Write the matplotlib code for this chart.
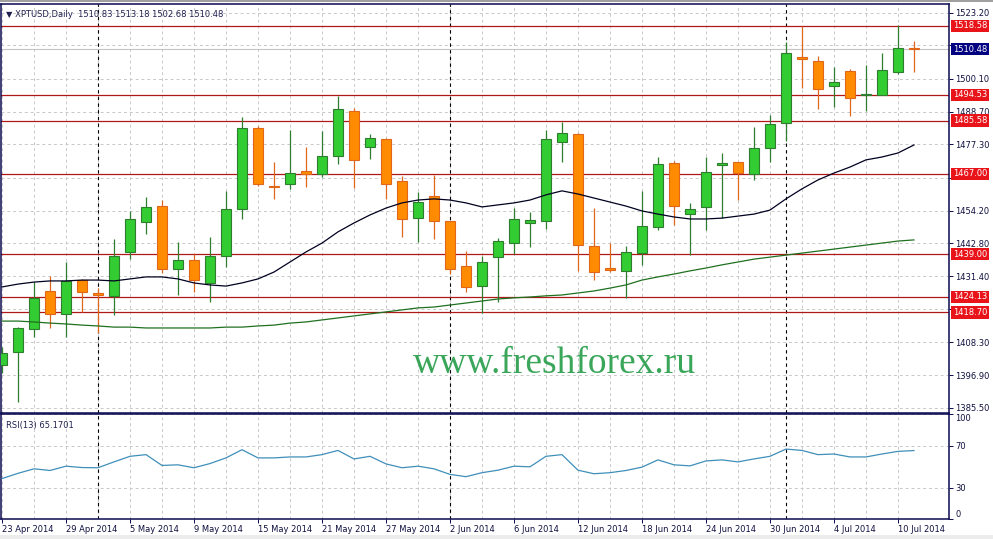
import numpy as np
import pandas as pd
import matplotlib
matplotlib.use('Agg')
import matplotlib.pyplot as plt
from matplotlib.patches import Rectangle

# XPTUSD daily bars, 23 Apr 2014 - 11 Jul 2014
dates = pd.bdate_range('2014-04-23', '2014-07-11')

opens = [1400.4, 1404.9, 1412.9, 1426.2, 1418.2, 1430.0, 1425.5, 1424.5, 1439.8, 1450.2,
         1455.8, 1433.9, 1437.0, 1429.0, 1438.4, 1454.8, 1483.0, 1462.8, 1463.5, 1468.0,
         1467.0, 1473.3, 1488.9, 1476.4, 1479.2, 1464.5, 1451.6, 1459.3, 1450.6, 1434.9,
         1427.9, 1438.0, 1442.9, 1449.9, 1450.6, 1478.1, 1480.9, 1441.9, 1434.2, 1433.2,
         1439.4, 1448.5, 1470.8, 1453.0, 1455.5, 1470.1, 1471.2, 1467.0, 1476.0, 1484.8,
         1507.8, 1506.4, 1497.7, 1502.9, 1494.5, 1494.5, 1502.5, 1510.83]
highs = [1406.7, 1413.6, 1429.3, 1431.4, 1436.3, 1430.4, 1427.2, 1444.3, 1454.1, 1459.0,
         1457.9, 1443.3, 1439.1, 1445.0, 1461.1, 1486.8, 1483.7, 1471.2, 1482.3, 1476.4,
         1482.0, 1494.2, 1490.0, 1480.9, 1479.5, 1466.3, 1460.7, 1466.6, 1450.6, 1440.1,
         1438.4, 1444.7, 1455.1, 1453.7, 1482.3, 1485.1, 1481.3, 1455.1, 1442.9, 1441.9,
         1461.1, 1472.9, 1471.5, 1456.9, 1472.9, 1474.3, 1471.2, 1483.4, 1487.5, 1513.0,
         1518.6, 1508.1, 1504.3, 1503.6, 1505.0, 1509.2, 1518.9, 1513.18]
lows = [1397.6, 1387.5, 1410.2, 1413.3, 1410.2, 1418.9, 1411.6, 1417.8, 1437.3, 1446.1,
        1432.5, 1424.8, 1425.8, 1422.4, 1434.6, 1451.3, 1462.8, 1458.3, 1461.8, 1462.4,
        1465.9, 1470.5, 1462.1, 1472.2, 1458.3, 1445.0, 1443.3, 1444.3, 1432.1, 1425.8,
        1418.5, 1422.4, 1439.1, 1441.5, 1447.8, 1471.2, 1433.2, 1430.0, 1432.8, 1423.8,
        1435.3, 1447.5, 1449.2, 1438.7, 1447.5, 1451.6, 1457.9, 1464.9, 1471.2, 1478.5,
        1497.0, 1489.6, 1490.3, 1487.2, 1488.9, 1494.5, 1501.8, 1502.68]
closes = [1404.6, 1413.3, 1423.8, 1418.2, 1429.7, 1425.8, 1424.8, 1438.4, 1451.3, 1455.5,
          1433.9, 1437.0, 1430.0, 1438.4, 1454.8, 1483.0, 1463.5, 1462.4, 1467.3, 1467.0,
          1473.3, 1489.6, 1471.9, 1479.5, 1463.5, 1451.3, 1457.2, 1450.6, 1433.9, 1427.6,
          1436.3, 1443.6, 1451.3, 1450.9, 1479.2, 1481.3, 1442.2, 1432.8, 1433.5, 1439.8,
          1448.9, 1470.5, 1455.8, 1454.8, 1467.7, 1470.8, 1467.3, 1476.0, 1484.4, 1509.2,
          1507.1, 1496.6, 1499.0, 1493.5, 1494.9, 1503.2, 1510.9, 1510.48]

ma_fast = [1427.6, 1428.6, 1429.3, 1429.7, 1429.7, 1430.0, 1430.0, 1429.7, 1430.4, 1431.1,
           1431.1, 1430.4, 1429.0, 1428.3, 1427.9, 1429.0, 1430.4, 1432.8, 1436.3, 1439.8,
           1442.9, 1446.8, 1449.9, 1452.7, 1455.1, 1456.9, 1457.9, 1458.3, 1457.9, 1456.9,
           1455.5, 1456.2, 1456.9, 1457.9, 1459.7, 1461.1, 1460.0, 1458.6, 1457.2, 1455.8,
           1454.1, 1453.0, 1452.0, 1451.3, 1451.3, 1451.6, 1452.3, 1453.0, 1454.4, 1458.3,
           1461.8, 1464.9, 1467.3, 1469.4, 1471.9, 1472.9, 1474.3, 1477.1]
ma_slow = [1415.7, 1415.7, 1415.4, 1415.0, 1414.7, 1414.3, 1414.0, 1413.6, 1413.6, 1413.3,
           1413.3, 1413.3, 1413.3, 1413.3, 1413.6, 1413.6, 1414.0, 1414.3, 1415.0, 1415.4,
           1416.1, 1416.8, 1417.5, 1418.2, 1418.9, 1419.6, 1420.3, 1420.6, 1421.3, 1422.0,
           1422.7, 1423.4, 1423.8, 1424.1, 1424.5, 1424.8, 1425.5, 1426.2, 1427.2, 1428.3,
           1430.0, 1431.1, 1432.1, 1433.2, 1434.2, 1435.3, 1436.3, 1437.3, 1438.0, 1438.7,
           1439.4, 1440.1, 1440.8, 1441.5, 1442.2, 1442.9, 1443.6, 1444.0]
rsi = [38.5, 43.5, 47.8, 46.2, 50.3, 49.0, 48.8, 54.4, 59.7, 61.3,
       51.0, 51.6, 48.8, 52.8, 58.2, 66.0, 58.2, 58.2, 59.1, 59.1,
       61.3, 65.3, 57.2, 59.7, 52.5, 48.8, 50.3, 47.8, 42.5, 40.3,
       44.1, 46.5, 50.3, 49.7, 59.7, 61.3, 46.5, 43.1, 44.1, 46.2,
       49.4, 56.3, 51.6, 50.6, 55.3, 56.3, 54.4, 57.2, 59.7, 66.6,
       65.3, 61.3, 61.9, 59.1, 59.1, 61.9, 64.4, 65.2]

levels = [1518.58, 1494.53, 1485.58, 1467.00, 1439.00, 1424.13, 1418.70]
last_price = 1510.48
price_ticks = [1523.20, 1511.80, 1500.10, 1488.70, 1477.30, 1465.60, 1454.20,
               1442.80, 1431.40, 1420.00, 1408.30, 1396.90, 1385.50]
# these tick labels sit under the level boxes in the terminal
hidden_ticks = [1511.80, 1465.60, 1420.00]
rsi_ticks = [0, 30, 70, 100]

W, H = 993, 539
fig = plt.figure(figsize=(W / 100, H / 100), dpi=100, facecolor='white')
fig.patches.append(Rectangle((0, 1 - 2 / H), 1, 2 / H, transform=fig.transFigure,
                             fc='#a0a0a0', ec='none'))
fig.patches.append(Rectangle((0, 0), 1, 4 / H, transform=fig.transFigure,
                             fc='#ececec', ec='none'))
ax = fig.add_axes([1 / W, 1 - 413 / H, 948 / W, 409 / H])
ax2 = fig.add_axes([1 / W, 1 - 519 / H, 948 / W, 105 / H])

x = np.arange(len(dates))
o, h, l, c = map(np.array, (opens, highs, lows, closes))
up = c >= o
navy = '#0a0a50'
grid_kw = dict(color='#c8c8c8', lw=0.7, ls=(0, (3, 3)))

for a in (ax, ax2):
    a.set_xlim(-0.0625, 59.19)
    a.set_xticks(x[::4])
    a.set_xticks(x[::2], minor=True)
    a.grid(True, which='both', axis='x', **grid_kw)
    a.grid(True, which='major', axis='y', **grid_kw)
    a.set_axisbelow(True)
    for s in a.spines.values():
        s.set_color(navy)
        s.set_linewidth(1.1)
    a.yaxis.tick_right()
    a.tick_params(axis='y', which='both', length=3, width=0.7, color=navy,
                  labelsize=6, labelcolor='#101040', pad=1.5)
    a.tick_params(axis='x', which='minor', length=0)
    # month separators
    for i in range(1, len(dates)):
        if dates[i].month != dates[i - 1].month:
            a.axvline(i, color='black', lw=0.8, ls=(0, (3, 3)), zorder=1)

ax.set_ylim(1383.66, 1526.24)
ax.set_yticks(price_ticks)
ax.set_yticklabels(['' if v in hidden_ticks else f'{v:.2f}' for v in price_ticks])
ax.tick_params(axis='x', which='both', length=0, labelbottom=False)

# support / resistance lines
for lv in levels:
    ax.axhline(lv, color='#b01818', lw=0.9, zorder=2)
    ax.text(1.004, lv, f'{lv:.2f}', transform=ax.get_yaxis_transform(), fontsize=6,
            color='white', va='center', ha='left', clip_on=False, zorder=10,
            bbox=dict(boxstyle='square,pad=0.2', fc='#e8141a', ec='none'))
ax.axhline(last_price, color='#c4c4c4', lw=0.8, zorder=1.5)
ax.text(1.004, last_price, f'{last_price:.2f}', transform=ax.get_yaxis_transform(),
        fontsize=6, color='white', va='center', ha='left', clip_on=False, zorder=10,
        bbox=dict(boxstyle='square,pad=0.2', fc='#000080', ec='none'))

# candles
wick_col = np.where(up, '#2f7d2f', '#e0661a')
ax.vlines(x, l, h, colors=wick_col, lw=0.9, zorder=3)
body = np.maximum(np.abs(c - o), 0.5)
ax.bar(x[up], body[up], bottom=np.minimum(o, c)[up], width=0.62,
       color='#33cc33', edgecolor='#2f7d2f', linewidth=0.8, zorder=4)
ax.bar(x[~up], body[~up], bottom=np.minimum(o, c)[~up], width=0.62,
       color='#ff8c00', edgecolor='#e0661a', linewidth=0.8, zorder=4)

ax.plot(x, ma_fast, color='#000020', lw=0.9, zorder=5)
ax.plot(x, ma_slow, color='#1f701f', lw=0.9, zorder=5)

ax.text(0.005, 0.985, '\u25bc XPTUSD,Daily  1510.83 1513.18 1502.68 1510.48',
        transform=ax.transAxes, fontsize=6, color='#202050', va='top', ha='left')

# RSI panel
ax2.set_ylim(0, 100)
ax2.set_yticks(rsi_ticks)
ax2.set_yticklabels([str(v) for v in rsi_ticks])
for lab in ax2.get_yticklabels():
    if lab.get_text() == '100':
        lab.set_va('top')
    elif lab.get_text() == '0':
        lab.set_va('bottom')
ax2.plot(x, rsi, color='#3f8fba', lw=0.9, zorder=3)
ax2.set_xticklabels([d.strftime('%d %b %Y').lstrip('0') for d in dates[::4]],
                    ha='left')
ax2.tick_params(axis='x', which='major', length=3, width=0.7, color=navy,
                labelsize=6, labelcolor='#101040', pad=1.5)
ax2.text(0.005, 0.93, 'RSI(13) 65.1701', transform=ax2.transAxes, fontsize=6,
         color='#202050', va='top', ha='left')

fig.text(554 / W, 1 - 373 / H, 'www.freshforex.ru', fontsize=27,
         family='Liberation Serif', color='#3aa65a', ha='center', va='baseline')

fig.savefig('out.png', dpi=100, facecolor='white')
